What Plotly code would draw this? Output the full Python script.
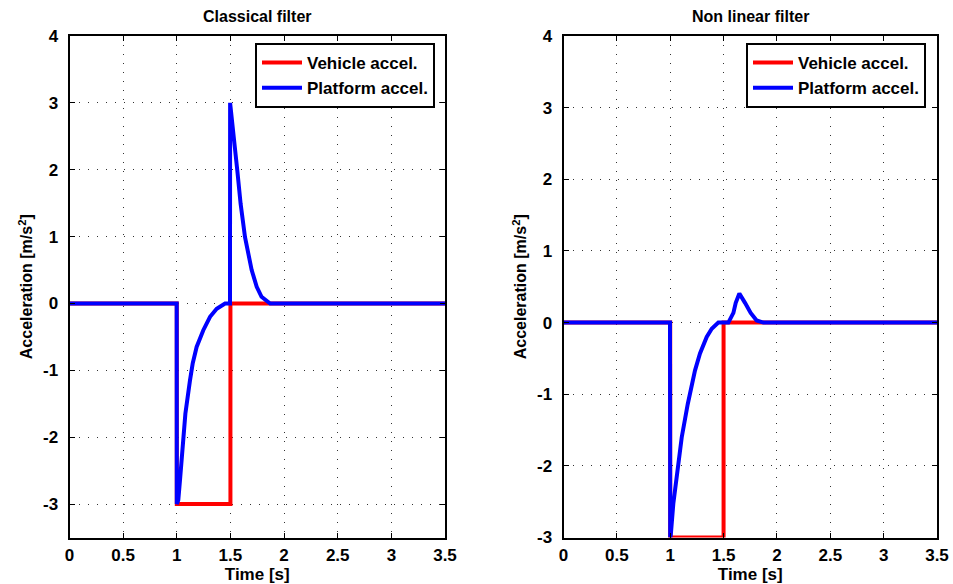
import plotly.graph_objects as go

# Vehicle acceleration (same in both panels)
t_vehicle = [0, 1.0, 1.0, 1.5, 1.5, 3.5]
a_vehicle = [0, 0, -3, -3, 0, 0]

# Platform acceleration - classical filter
t_classical = [0, 0.999, 1.0, 1.014, 1.03, 1.051, 1.08, 1.123, 1.148, 1.185, 1.247, 1.31, 1.372, 1.45,
               1.496, 1.497, 1.527, 1.564, 1.595, 1.636, 1.698, 1.745, 1.79, 1.87, 3.5]
a_classical = [0, 0, -3.0, -2.94, -2.64, -2.14, -1.65, -1.15, -0.90, -0.65, -0.40, -0.20, -0.08, 0,
               0, 3.0, 2.59, 1.99, 1.49, 0.99, 0.50, 0.25, 0.10, 0.0, 0]

# Platform acceleration - non linear filter
t_nonlinear = [0, 0.998, 1.0, 1.005, 1.029, 1.067, 1.108, 1.164, 1.232, 1.279, 1.342, 1.389, 1.451,
               1.545, 1.592, 1.614, 1.648, 1.701, 1.754, 1.81, 1.873, 3.5]
a_nonlinear = [0, 0, -3.0, -2.97, -2.53, -2.07, -1.60, -1.14, -0.67, -0.43, -0.20, -0.085, 0,
               0, 0.135, 0.275, 0.405, 0.275, 0.135, 0.03, 0, 0]

x_ticks = [0, 0.5, 1, 1.5, 2, 2.5, 3, 3.5]
x_labels = ["0", "0.5", "1", "1.5", "2", "2.5", "3", "3.5"]
y_ticks = [-3, -2, -1, 0, 1, 2, 3, 4]
y_labels = ["-3", "-2", "-1", "0", "1", "2", "3", "4"]

W, H = 953, 584
FONT = "Liberation Sans, Arial, sans-serif"

fig = go.Figure()
fig.add_trace(go.Scatter(x=t_vehicle, y=a_vehicle, mode="lines", name="Vehicle accel.",
                         line=dict(color="#ff0000", width=4), xaxis="x", yaxis="y", legend="legend"))
fig.add_trace(go.Scatter(x=t_classical, y=a_classical, mode="lines", name="Platform accel.",
                         line=dict(color="#0000ff", width=4), xaxis="x", yaxis="y", legend="legend"))
fig.add_trace(go.Scatter(x=t_vehicle, y=a_vehicle, mode="lines", name="Vehicle accel.",
                         line=dict(color="#ff0000", width=4), xaxis="x2", yaxis="y2", legend="legend2"))
fig.add_trace(go.Scatter(x=t_nonlinear, y=a_nonlinear, mode="lines", name="Platform accel.",
                         line=dict(color="#0000ff", width=4), xaxis="x2", yaxis="y2", legend="legend2"))

def px_x(p):
    return p / W

def px_y(p):
    return 1 - p / H

common_axis = dict(showline=True, linecolor="black", linewidth=2, mirror="ticks",
                   ticks="inside", ticklen=5, tickcolor="black", tickwidth=1,
                   showgrid=True, gridcolor="#333333", griddash="1px,8px", gridwidth=1,
                   zeroline=False, automargin=False,
                   tickfont=dict(family=FONT, size=17, color="black", weight="bold"))

xa = dict(common_axis, range=[0, 3.5], tickvals=x_ticks, ticktext=x_labels, ticklabelstandoff=1,
          title=dict(text="Time [s]", font=dict(family=FONT, size=17, color="black", weight="bold")))
ya_title = dict(text="Acceleration [m/s<sup>2</sup>]", standoff=6,
                font=dict(family=FONT, size=16, color="black", weight="bold"))

legend_common = dict(xanchor="right", yanchor="top",
                     bordercolor="black", borderwidth=2, bgcolor="white",
                     font=dict(family=FONT, size=17, color="black", weight="bold"),
                     tracegroupgap=0, itemwidth=40)

fig.update_layout(
    width=W, height=H,
    margin=dict(l=0, r=0, t=0, b=0, autoexpand=False),
    paper_bgcolor="white", plot_bgcolor="white",
    xaxis=dict(xa, domain=[px_x(69.5), px_x(445)], anchor="y"),
    yaxis=dict(common_axis, range=[-3.5, 4], tickvals=y_ticks, ticktext=y_labels, title=ya_title,
               ticklabelstandoff=6, domain=[px_y(537.5), px_y(36)], anchor="x"),
    xaxis2=dict(xa, domain=[px_x(563.5), px_x(937)], anchor="y2"),
    yaxis2=dict(common_axis, range=[-3, 4], tickvals=y_ticks, ticktext=y_labels, title=ya_title,
                ticklabelstandoff=6, domain=[px_y(537.5), px_y(36)], anchor="x2"),
    legend=dict(legend_common, x=px_x(435), y=px_y(43)),
    legend2=dict(legend_common, x=px_x(926), y=px_y(43)),
    annotations=[
        dict(text="Classical filter", x=px_x(257), y=px_y(17), xref="paper", yref="paper",
             showarrow=False, xanchor="center", yanchor="middle",
             font=dict(family=FONT, size=16, color="black", weight="bold")),
        dict(text="Non linear filter", x=px_x(750), y=px_y(17), xref="paper", yref="paper",
             showarrow=False, xanchor="center", yanchor="middle",
             font=dict(family=FONT, size=16, color="black", weight="bold")),
    ],
)

fig.write_html("out.html")
